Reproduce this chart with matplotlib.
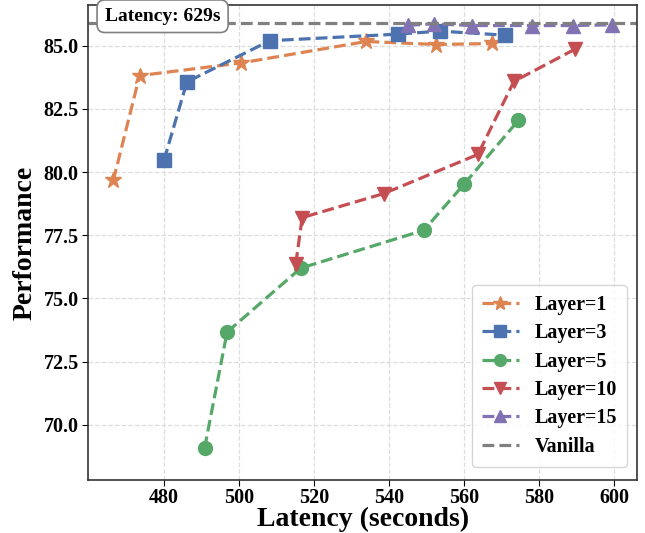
import matplotlib
matplotlib.use("Agg")
import matplotlib.pyplot as plt

# ── Datos ───────────────────────────────────────────────────────────────────
lat_l1 = [466.6, 473.6, 500.6, 534.0, 552.5, 567.5]
perf_l1 = [79.67, 83.82, 84.32, 85.17, 85.05, 85.09]

lat_l3 = [480.1, 486.2, 508.3, 542.4, 553.6, 570.8]
perf_l3 = [80.47, 83.57, 85.20, 85.46, 85.58, 85.42]

lat_l5 = [490.9, 496.9, 516.5, 549.3, 560.0, 574.5]
perf_l5 = [69.08, 73.67, 76.20, 77.70, 79.52, 82.05]

lat_l10 = [515.2, 516.9, 538.6, 563.7, 573.3, 589.5]
perf_l10 = [76.37, 78.20, 79.15, 80.70, 83.59, 84.86]

lat_l15 = [545.2, 552.0, 562.2, 578.1, 588.9, 599.5]
perf_l15 = [85.81, 85.87, 85.80, 85.80, 85.80, 85.83]

vanilla_perf = 85.9
vanilla_lat = 629

series = [
    ("Layer=1", lat_l1, perf_l1, "#DD8452", "*"),
    ("Layer=3", lat_l3, perf_l3, "#4C72B0", "s"),
    ("Layer=5", lat_l5, perf_l5, "#55A868", "o"),
    ("Layer=10", lat_l10, perf_l10, "#C44E52", "v"),
    ("Layer=15", lat_l15, perf_l15, "#8172B3", "^"),
]

plt.rcParams["font.family"] = ["Liberation Serif", "DejaVu Serif"]
plt.rcParams["font.weight"] = "bold"

fig, ax = plt.subplots(figsize=(6.45, 5.33), dpi=100)

for nombre, xs, ys, color, marca in series:
    ms = 12 if marca == "*" else 10
    ax.plot(xs, ys, linestyle="--", linewidth=2.3, color=color, marker=marca,
            markersize=ms, label=nombre)

ax.axhline(vanilla_perf, color="gray", linestyle="--", linewidth=2.3,
           label="Vanilla")

ax.text(0.03, 0.977, f"Latency: {vanilla_lat}s", transform=ax.transAxes,
        ha="left", va="center", fontsize=14, fontweight="bold",
        bbox=dict(boxstyle="round,pad=0.4", facecolor="white",
                  edgecolor="gray", linewidth=1.2))

ax.set_ylim(67.83, 86.6)
ax.set_yticks([70.0, 72.5, 75.0, 77.5, 80.0, 82.5, 85.0])
ax.set_xticks([480, 500, 520, 540, 560, 580, 600])

ax.grid(True, linestyle="--", color="#dddddd", linewidth=0.9)
ax.set_axisbelow(True)
for sp in ax.spines.values():
    sp.set_color("#333333")
    sp.set_linewidth(1.2)

ax.tick_params(axis="both", labelsize=14.5, length=4, pad=3)
ax.tick_params(axis="x", pad=2)
for lab in ax.get_xticklabels() + ax.get_yticklabels():
    lab.set_fontweight("bold")

ax.set_xlabel("Latency (seconds)", fontsize=20, fontweight="bold", labelpad=-0.5)
ax.set_ylabel("Performance", fontsize=20, fontweight="bold", labelpad=4)

ax.legend(loc="lower right", bbox_to_anchor=(0.982, 0.027), borderaxespad=0,
          prop={"weight": "bold", "size": 14.4}, handlelength=1.85,
          borderpad=0.5, labelspacing=0.42, markerscale=0.85)

fig.subplots_adjust(left=0.137, right=0.988, top=0.99, bottom=0.1)
fig.savefig("out.png", dpi=100)
